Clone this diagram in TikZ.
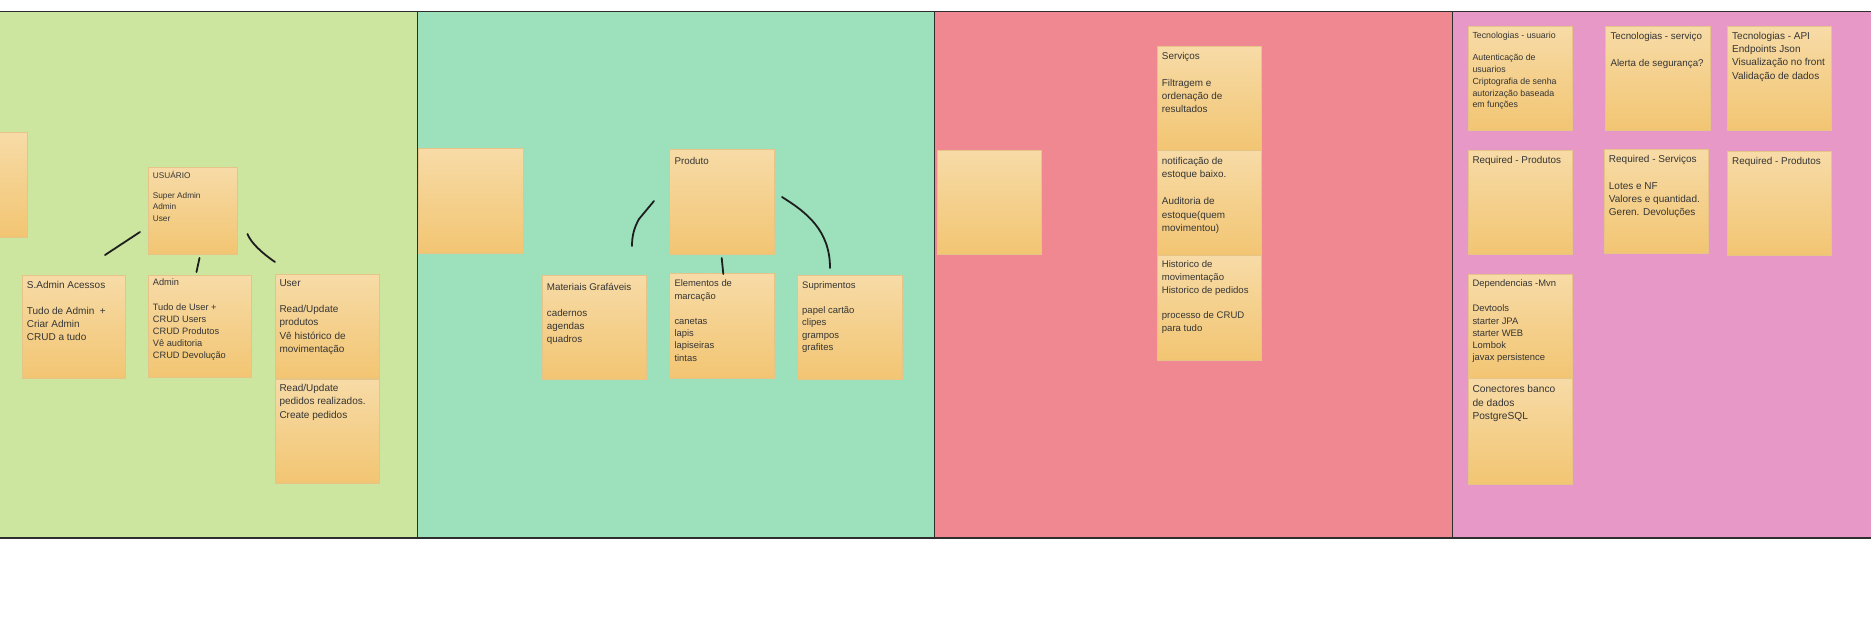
\documentclass[tikz,border=0pt]{standalone}
\usepackage{fontspec}
\setmainfont{Liberation Sans}
\definecolor{pgreen}{HTML}{CCE59F}
\definecolor{pteal}{HTML}{9CE0BC}
\definecolor{pred}{HTML}{F08892}
\definecolor{ppink}{HTML}{E898C7}
\definecolor{notetop}{HTML}{F7DBA7}
\definecolor{notebot}{HTML}{F2C572}
\definecolor{noteedge}{HTML}{E6C488}
\definecolor{txtgray}{HTML}{353535}
\definecolor{inkc}{HTML}{1E1E1E}
\definecolor{frame}{HTML}{2E2E2E}
\tikzset{
  panel/.style={draw=none},
  sticky/.style={top color=notetop, bottom color=notebot, draw=noteedge, line width=0.6pt},
  txt/.style={anchor=base west, inner sep=0pt, text=txtgray},
  conn/.style={draw=inkc, line width=1.8pt, line cap=round, line join=round},
  border/.style={draw=frame, line width=1pt}
}
\newcommand\nt[3]{\parbox[t]{110pt}{\fontsize{#1}{#2}\selectfont\raggedright #3}}
\begin{document}
\begin{tikzpicture}[x=1pt,y=-1pt]
\useasboundingbox[fill=white] (0,0) rectangle (1871,621);
% panels
\fill[pgreen] (0,11) rectangle (417,538);
\fill[pteal] (417,11) rectangle (934,538);
\fill[pred] (934,11) rectangle (1452,538);
\fill[ppink] (1452,11) rectangle (1875,538);
\draw[border] (0,11) -- (1875,11);
\draw[border, line width=1.4pt] (0,538) -- (1875,538);
\draw[border] (417,11) -- (417,538);
\draw[border] (934,11) -- (934,538);
\draw[border] (1452,11) -- (1452,538);

% sticky notes
\path[sticky] (-80,132) rectangle (27,237);
\path[sticky] (148,167) rectangle (237,254);
\path[sticky] (22,275) rectangle (125,378);
\path[sticky] (148,275) rectangle (251,377);
\path[sticky] (275,274) rectangle (379,378);
\path[sticky] (275,379) rectangle (379,483);
\path[sticky] (418,148) rectangle (523,253);
\path[sticky] (669,149) rectangle (774,254);
\path[sticky] (542,275) rectangle (646,379);
\path[sticky] (669,273) rectangle (774,378);
\path[sticky] (797,275) rectangle (902,379);
\path[sticky] (937,150) rectangle (1041,254);
\path[sticky] (1157,46) rectangle (1261,150);
\path[sticky] (1157,150) rectangle (1261,255);
\path[sticky] (1157,255) rectangle (1261,360);
\path[sticky] (1468,26) rectangle (1572,130);
\path[sticky] (1605,26) rectangle (1710,130);
\path[sticky] (1727,26) rectangle (1831,130);
\path[sticky] (1468,150) rectangle (1572,254);
\path[sticky] (1604,149) rectangle (1708,253);
\path[sticky] (1727,151) rectangle (1831,255);
\path[sticky] (1468,274) rectangle (1572,378);
\path[sticky] (1468,378) rectangle (1572,484);

% texts
\node[txt] (usuario) at (152.7,178) {\nt{8.25}{11.5}{USUÁRIO\\[8.5pt]Super Admin\\Admin\\User}};
\node[txt] (sadmin) at (26.7,288) {\nt{10}{13}{S.Admin Acessos\\[13pt]Tudo de Admin~~+\\Criar Admin\\CRUD a tudo}};
\node[txt] (admin) at (152.7,285) {\nt{9.25}{12}{Admin\\[13pt]Tudo de User +\\CRUD Users\\CRUD Produtos\\Vê auditoria\\CRUD Devolução}};
\node[txt] (user) at (279.3,286) {\nt{10}{13.5}{User\\[12.5pt]Read/Update\\produtos\\Vê histórico de\\movimentação}};
\node[txt] (user2) at (279.3,391) {\nt{10}{13.5}{Read/Update\\pedidos realizados.\\Create pedidos}};
\node[txt] (produto) at (674.3,164) {\nt{9.8}{13}{Produto}};
\node[txt] (materiais) at (546.7,290) {\nt{9.8}{13}{Materiais Grafáveis\\[13pt]cadernos\\agendas\\quadros}};
\node[txt] (elementos) at (674.3,286.7) {\nt{9.4}{12.4}{Elementos de\\marcação\\[12.6pt]canetas\\lapis\\lapiseiras\\tintas}};
\node[txt] (suprimentos) at (802,288.3) {\nt{9.5}{12.4}{Suprimentos\\[12.6pt]papel cartão\\clipes\\grampos\\grafites}};
\node[txt] (serv1) at (1161.7,59.3) {\nt{9.9}{13}{Serviços\\[14.4pt]Filtragem e\\ordenação de\\resultados}};
\node[txt] (serv2) at (1161.7,164) {\nt{9.9}{13.5}{notificação de\\estoque baixo.\\[13.5pt]Auditoria de\\estoque(quem\\movimentou)}};
\node[txt] (serv3) at (1161.7,267.7) {\nt{9.57}{12.8}{Historico de\\movimentação\\Historico de pedidos\\[12.2pt]processo de CRUD\\para tudo}};
\node[txt] (techu) at (1472.3,38.3) {\nt{8.8}{11.7}{Tecnologias - usuario\\[11pt]Autenticação de\\usuarios\\Criptografia de senha\\autorização baseada\\em funções}};
\node[txt] (techs) at (1610.3,39.3) {\nt{9.8}{13.3}{Tecnologias - serviço\\[14pt]Alerta de segurança?}};
\node[txt] (techa) at (1732,39.3) {\nt{10}{13.3}{Tecnologias - API\\Endpoints Json\\Visualização no front\\Validação de dados}};
\node[txt] (reqp1) at (1472.3,163.3) {\nt{9.9}{13.3}{Required - Produtos}};
\node[txt] (reqs) at (1608.7,162.7) {\nt{10}{13.3}{Required - Serviços\\[13.3pt]Lotes e NF\\Valores e quantidad.\\Geren. Devoluções}};
\node[txt] (reqp2) at (1732,164.3) {\nt{9.9}{13.3}{Required - Produtos}};
\node[txt] (dep) at (1472.3,286.7) {\nt{9.4}{12.3}{Dependencias -Mvn\\[12.7pt]Devtools\\starter JPA\\starter WEB\\Lombok\\javax persistence}};
\node[txt] (con) at (1472.3,392.7) {\nt{10.2}{13.3}{Conectores banco\\de dados\\PostgreSQL}};

% connector end points
\coordinate (a1) at (105,255); \coordinate (a2) at (140,232);
\coordinate (b1) at (199.5,258); \coordinate (b2) at (196.5,272);
\coordinate (c1) at (247.5,234); \coordinate (c2) at (275,262);
\coordinate (d1) at (654,201); \coordinate (dm) at (639,219); \coordinate (d2) at (632,246);
\coordinate (e1) at (721.7,258); \coordinate (e2) at (723.3,274);
\coordinate (f1) at (782,197); \coordinate (f2) at (830,268);

\draw[conn] (a1) -- (a2);
\draw[conn] (b1) -- (b2);
\draw[conn] (c1) .. controls (251,243) and (262,253) .. (c2);
\draw[conn] (d1) -- (dm) .. controls (634,228) and (632,236) .. (d2);
\draw[conn] (e1) -- (e2);
\draw[conn] (f1) .. controls (806,212) and (830,230) .. (f2);
\end{tikzpicture}
\end{document}
